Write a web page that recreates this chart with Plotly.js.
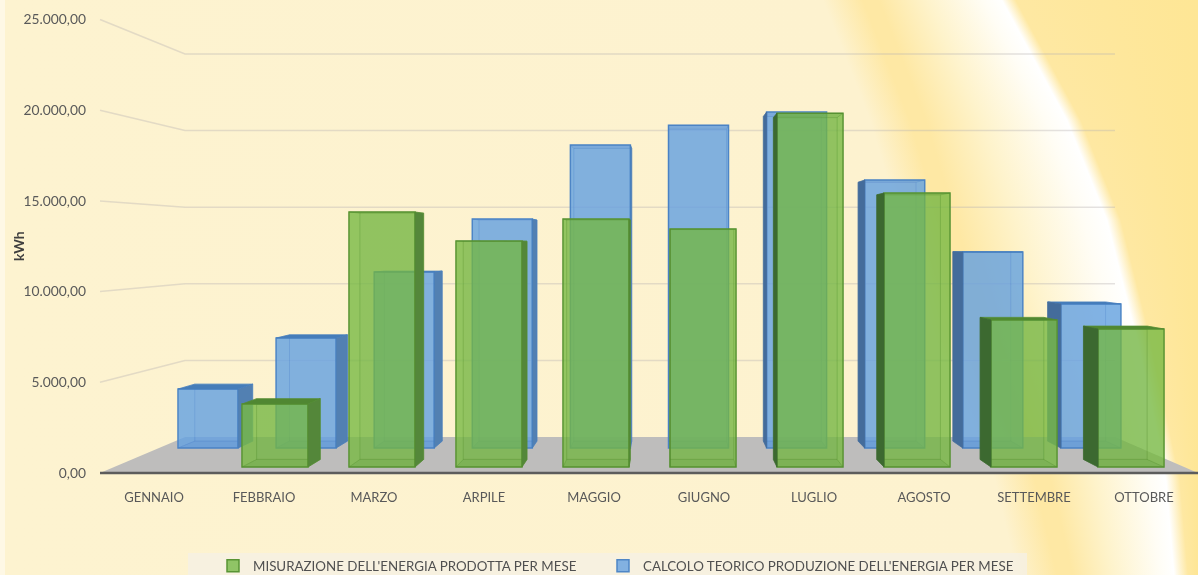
<!DOCTYPE html>
<html><head><meta charset="utf-8">
<script src="https://cdn.plot.ly/plotly-3.0.1.min.js"></script>
<style>html,body{margin:0;padding:0;width:1198px;height:575px;overflow:hidden;background:#fdf3d0}
#bg{position:absolute;left:0;top:0}#chart{position:absolute;left:0;top:0;width:1198px;height:575px}</style>
</head><body><canvas id="bg" width="1198" height="575"></canvas><div id="chart"></div>
<script>
// ---- data ----
const categories = ['GENNAIO','FEBBRAIO','MARZO','ARPILE','MAGGIO','GIUGNO','LUGLIO','AGOSTO','SETTEMBRE','OTTOBRE'];
const misurazione = [null,3550,14390,12750,13990,13430,19970,15460,8300,7790];
const calcoloTeorico = [3640,6790,10860,14130,18700,19930,20740,16540,12100,8890];
const yTickValues = [0,5000,10000,15000,20000,25000];
const nameMisurazione = "MISURAZIONE DELL'ENERGIA PRODOTTA PER MESE";
const nameCalcolo = "CALCOLO TEORICO PRODUZIONE DELL'ENERGIA PER MESE";

// ---- layout geometry (pixels) ----
const W=1198,H=575,L=87,BOTTOM=473;
const VP={x:670,y:245,k:0.966};
const front={a:154,s:110,base:473,sc:90.7/5000};
const bluePlane={a:208,s:98.1,base:448,sc:81/5000,w:60/98.1};
const greenPlane={a:168,s:107,base:467,sc:88.6/5000,w:66/107};
const xRange=p=>[(L-p.a)/p.s,(W-p.a)/p.s];
const yRange=p=>[(p.base-BOTTOM)/p.sc,p.base/p.sc];

// background swoosh
(function(){
  const c=document.getElementById('bg').getContext('2d');
  const lerpTab=(t,y)=>{for(let i=1;i<t.length;i++){if(y<=t[i][0]){const f=(y-t[i-1][0])/(t[i][0]-t[i-1][0]);return t[i-1][1]+f*(t[i][1]-t[i-1][1]);}}return t[t.length-1][1];};
  const centre=[[0,873],[120,920],[340,985],[480,1045],[575,1067]];
  const edge=[[0,1008],[120,1073],[220,1113],[340,1143],[480,1172],[575,1180]];
  for(let y=0;y<H;y++){
    const a=lerpTab(centre,y),e=lerpTab(edge,y),g=c.createLinearGradient(0,0,W,0);
    const st=(x,col)=>g.addColorStop(Math.min(1,Math.max(0,x/W)),col);
    st(0,'#fdf3d0');st(a-50,'#fdf2cf');st(a-10,'#fee8a4');st(a+6,'#fee8a4');
    st(a+(e-a)*0.4,'#fef3cb');st(a+(e-a)*0.82,'#fffdf5');st(e-6,'#ffffff');st(e+8,'#fee8a2');st(W,'#fee695');
    c.fillStyle=g;c.fillRect(0,y,W,1);
  }
  c.fillStyle='rgba(255,255,255,0.45)';c.fillRect(0,0,5,H);
})();

// 3D faces of each box, derived from the value arrays through the plane scale
function faces(values,p){
  const out={back:[[],[]],top:[[],[]],topUnder:[[],[]],bottom:[[],[]],inner:[[],[]],outerR:[[],[]],outerL:[[],[]]};
  const toBack=(x,v)=>{const px=p.a+p.s*x,py=p.base-p.sc*v;
    const bx=VP.x+(px-VP.x)*VP.k,by=VP.y+(py-VP.y)*VP.k;return [(bx-p.a)/p.s,(p.base-by)/p.sc];};
  const add=(key,pts)=>{pts.concat([pts[0]]).forEach(q=>{out[key][0].push(q[0]);out[key][1].push(q[1]);});out[key][0].push(null);out[key][1].push(null);};
  values.forEach((v,i)=>{
    if(v==null)return;
    const l=i-p.w/2,r=i+p.w/2;
    const bl0=toBack(l,0),br0=toBack(r,0),blv=toBack(l,v),brv=toBack(r,v);
    add('back',[bl0,br0,brv,blv]);
    add(p.base-p.sc*v>VP.y?'top':'topUnder',[[l,v],[r,v],brv,blv]);
    add('bottom',[[l,0],[r,0],br0,bl0]);
    const pl=p.a+p.s*l,pr=p.a+p.s*r;
    add(pr<VP.x?'outerR':'inner',[[r,0],br0,brv,[r,v]]);
    add(pl>VP.x?'outerL':'inner',[[l,0],bl0,blv,[l,v]]);
  });
  return out;
}
function faceTraces(values,p,xa,ya,st){
  const f=faces(values,p);
  const t=(key,fill,line)=>({type:'scatter',mode:'lines',x:f[key][0],y:f[key][1],xaxis:xa,yaxis:ya,fill:'toself',fillcolor:fill,
    line:{color:line,width:0.75},showlegend:false,hoverinfo:'skip',connectgaps:false});
  return [t('back',st.back,st.inner),t('inner',st.innerFill,st.inner),t('bottom',st.bottom,st.inner),
          t('topUnder',st.under,st.inner),t('top',st.top,st.edge),t('outerR',st.right,st.edge),t('outerL',st.left,st.left)];
}
const blueStyle={back:'rgba(100,160,225,0.04)',innerFill:'rgba(120,175,235,0.08)',bottom:'rgba(70,130,200,0.15)',under:'rgba(70,125,190,0.12)',top:'rgb(70,125,185)',right:'rgb(82,128,178)',left:'rgb(68,108,155)',edge:'rgb(70,125,190)',inner:'rgba(70,130,200,0.22)'};
const greenStyle={back:'rgba(122,190,72,0.04)',innerFill:'rgba(150,205,80,0.12)',bottom:'rgba(90,150,50,0.15)',under:'rgba(90,150,50,0.12)',top:'rgb(80,135,50)',right:'rgb(84,135,58)',left:'rgb(60,105,48)',edge:'rgb(84,140,50)',inner:'rgba(85,145,50,0.25)'};
const idx=categories.map((_,i)=>i);

const traces=[
  // main axes carry tick labels only
  {type:'scatter',x:idx,y:idx.map(()=>0),mode:'none',showlegend:false,hoverinfo:'skip'},
  {type:'bar',name:nameCalcolo,x:idx,y:calcoloTeorico,width:bluePlane.w,xaxis:'x2',yaxis:'y2',legend:'legend2',
   marker:{color:'rgba(100,160,225,0.8)',line:{color:'rgb(78,134,198)',width:1.5}}},
  ...faceTraces(calcoloTeorico,bluePlane,'x2','y2',blueStyle),
  {type:'bar',name:nameMisurazione,x:idx,y:misurazione,width:greenPlane.w,xaxis:'x3',yaxis:'y3',legend:'legend',
   marker:{color:'rgba(115,182,66,0.78)',line:{color:'rgb(88,148,52)',width:1.5}}},
  ...faceTraces(misurazione,greenPlane,'x3','y3',greenStyle),
];

// pixel helpers for the backdrop shapes
const PX=x=>(x-L)/(W-L),PY=y=>1-y/BOTTOM;
const paperLine=(pts,color,width)=>({type:'path',xref:'paper',yref:'paper',layer:'below',
  path:'M'+pts.map(q=>PX(q[0])+','+PY(q[1])).join('L'),line:{color,width}});
const gridShapes=yTickValues.slice(1).map(v=>{
  const yf=473-v*90.7/5000,yb=437-v*76.6/5000;
  return paperLine([[100,yf],[185,yb],[1115,yb]],'rgba(185,180,178,0.38)',1.5);
});
const shapes=[
  {type:'path',xref:'paper',yref:'paper',layer:'below',fillcolor:'#bebdbc',line:{width:0},
   path:'M'+[[100,473],[185,437],[1115,437],[1198,473]].map(q=>PX(q[0])+','+PY(q[1])).join('L')+'Z'},
  paperLine([[100,473],[1198,473]],'#5c5c5c',2.5),
  ...gridShapes,
  {type:'rect',xref:'paper',yref:'paper',layer:'below',x0:PX(188),x1:PX(1027),y0:PY(553),y1:PY(575),fillcolor:'rgba(244,240,230,0.75)',line:{width:0}},
];
const hidden=o=>Object.assign({visible:false,showgrid:false,zeroline:false,fixedrange:true},o);
const legendAt=textStartPx=>({orientation:'h',xref:'container',yref:'container',x:(textStartPx-40)/W,xanchor:'left',y:1-566/H,yanchor:'middle',
  bgcolor:'rgba(0,0,0,0)',font:{size:13.35,color:'#505050'},itemclick:false,itemdoubleclick:false});

const layout={
  width:W,height:H,margin:{l:L,r:0,t:0,b:H-BOTTOM,pad:0},
  paper_bgcolor:'rgba(0,0,0,0)',plot_bgcolor:'rgba(0,0,0,0)',
  separators:',.',barmode:'overlay',hovermode:false,
  font:{family:'Lato, "Noto Sans", sans-serif',size:13,color:'#595959'},
  xaxis:{range:xRange(front),tickmode:'array',tickvals:idx,ticktext:categories,ticklen:12,tickcolor:'rgba(0,0,0,0)',showgrid:false,zeroline:false,showline:false,fixedrange:true,tickfont:{size:13,color:'#595959'}},
  yaxis:{range:yRange(front),tickmode:'array',tickvals:yTickValues,tickformat:',.2f',showgrid:false,zeroline:false,showline:false,ticks:'',fixedrange:true,tickfont:{size:13.8,color:'#595959'}},
  xaxis2:hidden({range:xRange(bluePlane),overlaying:'x'}),
  yaxis2:hidden({range:yRange(bluePlane),overlaying:'y'}),
  xaxis3:hidden({range:xRange(greenPlane),overlaying:'x'}),
  yaxis3:hidden({range:yRange(greenPlane),overlaying:'y'}),
  shapes,
  annotations:[{text:'<b>kWh</b>',xref:'paper',yref:'paper',x:PX(18),y:PY(246),showarrow:false,textangle:-90,font:{size:14,color:'#404040'},xanchor:'center',yanchor:'middle'}],
  legend:legendAt(253),
  legend2:legendAt(643),
  showlegend:true
};
Plotly.newPlot('chart',traces,layout,{displayModeBar:false,staticPlot:true,responsive:false});
</script></body></html>
